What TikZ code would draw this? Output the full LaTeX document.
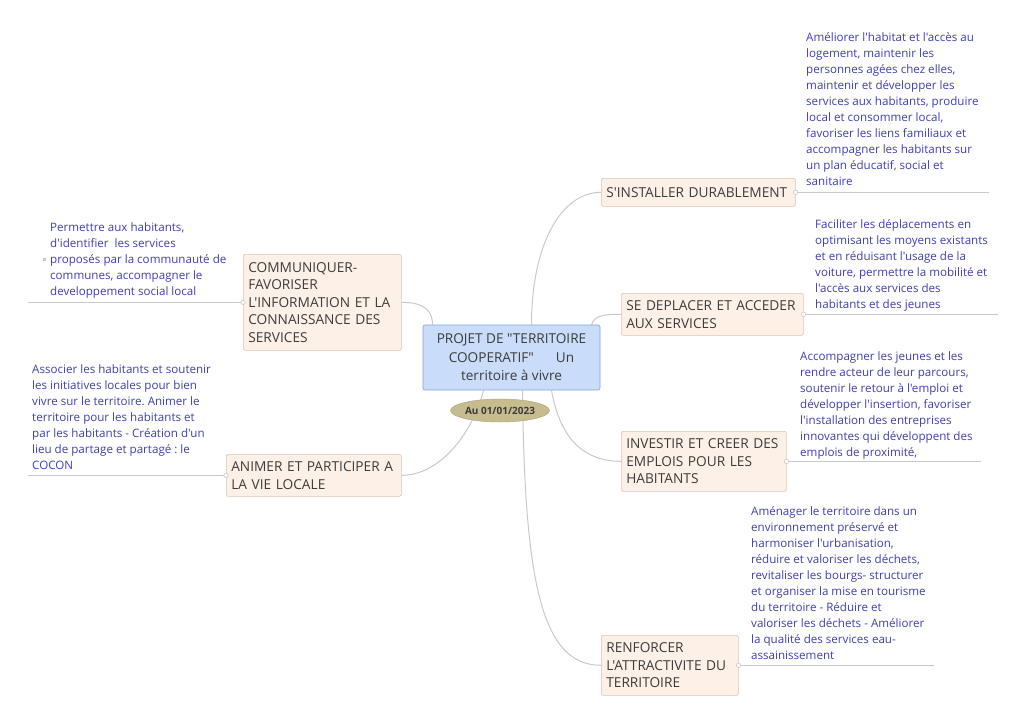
\documentclass[tikz,border=0pt]{standalone}
\usepackage{fontspec}
\setmainfont{Open Sans}[Ligatures=TeXOff]
\usetikzlibrary{backgrounds,shapes.geometric}
\definecolor{cfill}{HTML}{C9DCF9}
\definecolor{cdraw}{HTML}{86A2D6}
\definecolor{bfill}{HTML}{FDF1E7}
\definecolor{bdraw}{HTML}{DCC3B0}
\definecolor{efill}{HTML}{C6BC8E}
\definecolor{dtext}{HTML}{3E3EB2}
\definecolor{ttext}{HTML}{3C3C3C}
\definecolor{lgray}{HTML}{C9C9C9}
\frenchspacing
\begin{document}
\begin{tikzpicture}[x=1pt,y=-1pt,
 topic/.style={draw=bdraw,fill=bfill,rounded corners=1.5pt,text=ttext,font=\fontsize{13.7}{17.6}\selectfont,align=left,anchor=north west,inner xsep=5pt,inner ysep=2pt,line width=0.6pt},
 desc/.style={text=dtext,font=\fontsize{11.6}{16}\selectfont,align=left,anchor=north west,inner sep=0pt},
 conn/.style={draw=lgray,line width=1pt},
 uline/.style={draw=lgray,line width=1.2pt},
 knob/.style={circle,draw=lgray,fill=white,inner sep=0pt,minimum size=4.5pt,line width=0.6pt}]
\useasboundingbox (0,0) rectangle (1024,724);

% central topic
\node[draw=cdraw,fill=cfill,rounded corners=2pt,text=ttext,font=\fontsize{13.6}{18.5}\selectfont,align=center,minimum width=177pt,minimum height=65pt,inner sep=0pt,line width=0.6pt] (c) at (511.5,357.5) {PROJET DE "TERRITOIRE\\COOPERATIF"\hspace{22pt}Un\\territoire à vivre};
\node[ellipse,fill=efill,draw=efill!85!black,line width=0.4pt,minimum width=89pt,minimum height=23pt,inner sep=0pt,font=\fontsize{10}{10}\selectfont\bfseries,text=ttext] (d) at (500,410.5) {Au 01/01/2023};

% main topics
\node[topic,text width=184pt,minimum height=28pt] (b1) at (601,178) {S'INSTALLER DURABLEMENT};
\node[topic,text width=172pt,minimum height=42pt] (b2) at (621,293) {SE DEPLACER ET ACCEDER\\AUX SERVICES};
\node[topic,text width=155pt,minimum height=60pt] (b3) at (621,431) {INVESTIR ET CREER DES\\EMPLOIS POUR LES\\HABITANTS};
\node[topic,text width=127pt,minimum height=60pt] (b4) at (601,635) {RENFORCER\\L'ATTRACTIVITE DU\\TERRITOIRE};
\node[topic,text width=148pt,minimum height=96pt] (b5) at (243,254) {COMMUNIQUER-\\FAVORISER\\L'INFORMATION ET LA\\CONNAISSANCE DES\\SERVICES};
\node[topic,text width=165pt,minimum height=42pt] (b6) at (226,454) {ANIMER ET PARTICIPER A\\LA VIE LOCALE};

% descriptions
\node[desc] (t1) at (806,31) {\rule{0pt}{10pt}Améliorer l'habitat et l'accès au\\logement, maintenir les\\personnes agées chez elles,\\maintenir et développer les\\services aux habitants, produire\\local et consommer local,\\favoriser les liens familiaux et\\accompagner les habitants sur\\un plan éducatif, social et\\sanitaire};
\node[desc] (t2) at (815,218) {\rule{0pt}{10pt}Faciliter les déplacements en\\optimisant les moyens existants\\et en réduisant l'usage de la\\voiture, permettre la mobilité et\\l'accès aux services des\\habitants et des jeunes};
\node[desc] (t3) at (800,350) {\rule{0pt}{10pt}Accompagner les jeunes et les\\rendre acteur de leur parcours,\\soutenir le retour à l'emploi et\\développer l'insertion, favoriser\\l'installation des entreprises\\innovantes qui développent des\\emplois de proximité,};
\node[desc] (t4) at (751,505) {\rule{0pt}{10pt}Aménager le territoire dans un\\environnement préservé et\\harmoniser l'urbanisation,\\réduire et valoriser les déchets,\\revitaliser les bourgs- structurer\\et organiser la mise en tourisme\\du territoire - Réduire et\\valoriser les déchets - Améliorer\\la qualité des services eau-\\assainissement};
\node[desc] (t5) at (50,221) {\rule{0pt}{10pt}Permettre aux habitants,\\d'identifier\ \ les services\\proposés par la communauté de\\communes, accompagner le\\developpement social local};
\node[desc] (t6) at (32,363) {\rule{0pt}{10pt}Associer les habitants et soutenir\\les initiatives locales pour bien\\vivre sur le territoire. Animer le\\territoire pour les habitants et\\par les habitants - Création d'un\\lieu de partage et partagé : le\\COCON};
\node[rectangle,fill=lgray,inner sep=0pt,minimum size=3pt] (m5) at (44,259) {};

\begin{scope}[on background layer]
% connectors from central topic
\draw[conn] ([xshift=20]c.north) .. controls +(0,-80) and +(-40,0) .. (b1.west);
\draw[conn] ([xshift=80]c.north) .. controls +(3,-10) and +(-15,0) .. (b2.west);
\draw[conn] ([xshift=40]c.south) .. controls +(8,45) and +(-40,0) .. (b3.west);
\draw[conn] ([xshift=11]c.south) .. controls +(2,190) and +(-60,0) .. (b4.west);
\draw[conn] (b5.east) .. controls +(25,0) and +(0,-12) .. ([xshift=-79]c.north);
\draw[conn] ([xshift=-28]c.south) .. controls +(-10,40) and +(40,0) .. (b6.east);
% underlines
\draw[uline] (b1.east) -- ++(193,0);
\draw[uline] (b2.east) -- ++(194,0);
\draw[uline] (b3.east) -- ++(194,0);
\draw[uline] (b4.east) -- ++(195,0);
\draw[uline] (b5.west) -- ++(-215,0);
\draw[uline] (b6.west) -- ++(-198,0);
\end{scope}
\node[knob] (k1) at (b1.east) {};
\node[knob] (k2) at (b2.east) {};
\node[knob] (k3) at (b3.east) {};
\node[knob] (k4) at (b4.east) {};
\node[knob] (k5) at (b5.west) {};
\node[knob] (k6) at (b6.west) {};
\end{tikzpicture}
\end{document}
